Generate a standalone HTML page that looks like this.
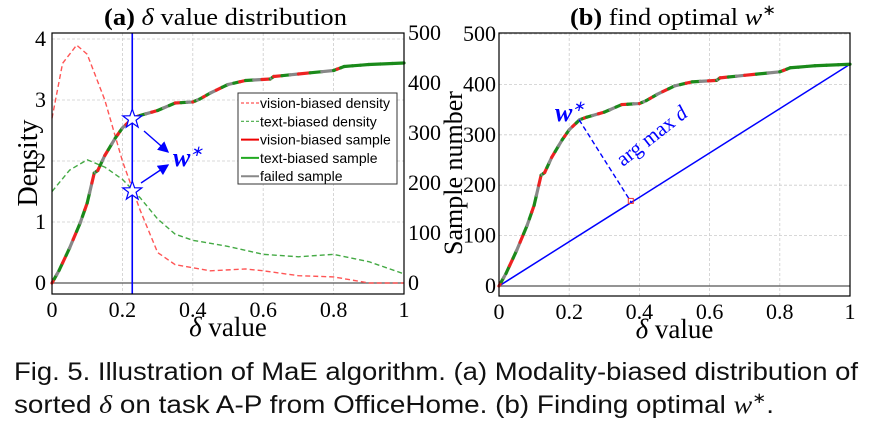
<!DOCTYPE html>
<html><head><meta charset="utf-8"><style>
body{margin:0;background:#fff;width:876px;height:425px;overflow:hidden}
svg{display:block}
.t{font-family:"Liberation Serif",serif;font-size:22px;fill:#000}
.cap{font-family:"Liberation Sans",sans-serif;font-size:25px;fill:#111}
.lg{font-family:"Liberation Sans",sans-serif;font-size:14px;fill:#000}
.grid{stroke:#ccc;stroke-dasharray:3,2;stroke-width:0.8}
</style></head><body>
<svg id="s" width="876" height="425">
<text class="cap" x="14" y="380" textLength="844" lengthAdjust="spacingAndGlyphs">Fig. 5. Illustration of MaE algorithm. (a) Modality-biased distribution of</text>
<text class="cap" x="14" y="413" textLength="760" lengthAdjust="spacingAndGlyphs">sorted <tspan font-family="Liberation Serif" font-style="italic">δ</tspan> on task A-P from OfficeHome. (b) Finding optimal <tspan font-family="Liberation Serif" font-style="italic">w</tspan><tspan font-size="15" dy="-10">∗</tspan><tspan dy="10">.</tspan></text>
</svg>
<script>
const sampleX=[0,0.02,0.05,0.08,0.1,0.12,0.13,0.15,0.18,0.2,0.23,0.25,0.3,0.35,0.4,0.42,0.45,0.5,0.55,0.62,0.63,0.7,0.8,0.83,0.9,1];
const sampleY=[0,25,70,120,160,220,225,255,290,310,330,335,345,360,362,368,380,397,405,408,413,418,425,433,437,440];
const visionX=[0,0.03,0.07,0.1,0.15,0.2,0.25,0.3,0.35,0.4,0.45,0.55,0.6,0.7,0.8,0.9,1];
const visionY=[2.7,3.6,3.9,3.75,3.0,2.0,1.2,0.5,0.3,0.25,0.2,0.23,0.2,0.12,0.1,0.0,0];
const textX=[0,0.05,0.1,0.15,0.2,0.25,0.3,0.35,0.4,0.5,0.6,0.7,0.8,0.9,1];
const textY=[1.5,1.85,2.02,1.9,1.7,1.4,1.05,0.8,0.7,0.6,0.47,0.43,0.47,0.35,0.15];
const wStar=0.228;
const xTicks=[0,0.2,0.4,0.6,0.8,1];
const densTicks=[0,1,2,3,4];
const countTicks=[0,100,200,300,400,500];
const NS="http://www.w3.org/2000/svg";
const svg=document.getElementById('s');
function mk(tag,at,parent){const e=document.createElementNS(NS,tag);for(const k in at)e.setAttribute(k,at[k]);(parent||svg).appendChild(e);return e;}
function pts(xs,ys,fx,fy){return xs.map((x,i)=>fx(x)+','+fy(ys[i])).join(' ');}
const segCols=['#e22','#1a8a1a','#888','#1a8a1a','#e22','#1a8a1a','#888'];
function drawSamples(fx,fc){
  for(let i=0;i<sampleX.length-1;i++){
    const n=3;
    for(let j=0;j<n;j++){
      const a=j/n,b=(j+1)/n;
      const x1=sampleX[i]+(sampleX[i+1]-sampleX[i])*a,y1=sampleY[i]+(sampleY[i+1]-sampleY[i])*a;
      const x2=sampleX[i]+(sampleX[i+1]-sampleX[i])*b,y2=sampleY[i]+(sampleY[i+1]-sampleY[i])*b;
      let c=segCols[(i*n+j)%segCols.length];
      if(sampleX[i]>=0.83)c='#1a8a1a';
      const l=mk('line',{x1:fx(x1),y1:fc(y1),x2:fx(x2),y2:fc(y2),stroke:c,'stroke-width':3.2,'stroke-linecap':'round'});
      
      
    }
  }
}
function axesFrame(L,R,T,B,fx){
  for(const t of xTicks){
    const g=mk('line',{x1:fx(t),x2:fx(t),y1:T,y2:B,class:'grid'});
    
    const tx=mk('text',{x:fx(t),y:B+23,class:'t','text-anchor':'middle'});tx.textContent=String(t);
    
  }
  const xl=mk('text',{x:(L+R)/2,y:B+42,class:'t',style:'font-size:27px','text-anchor':'middle'});
  xl.innerHTML='<tspan font-style="italic">δ</tspan> value';
  
}
mk('defs',{}).innerHTML='<marker id="ar" markerWidth="8" markerHeight="8" refX="7" refY="4" orient="auto"><path d="M0,0 L8,4 L0,8 z" fill="#00f"/></marker>';
// ---- Panel (a)
{
const L=52,R=404,T=33,B=294;
const fx=x=>L+x*(R-L);
const fd=d=>283-d*61;
const fc=c=>283-c*0.5;
axesFrame(L,R,T,B,fx);
for(const t of densTicks){
  const g=mk('line',{x1:L,x2:R,y1:fd(t),y2:fd(t),class:'grid'});
  const tx=mk('text',{x:L-6,y:fd(t)+7,class:'t','text-anchor':'end'});tx.textContent=t;
  
}
for(const t of countTicks){
  const tx=mk('text',{x:R+4,y:fc(t)+7,class:'t'});tx.textContent=t;
  
}
const z=mk('line',{x1:L,x2:R,y1:fd(0),y2:fd(0),stroke:'#555','stroke-width':1.2});
const vp=mk('polyline',{points:pts(visionX,visionY,fx,fd),fill:'none',stroke:'#f55','stroke-width':1.4,'stroke-dasharray':'5,3','stroke-linejoin':'round'});

const tp=mk('polyline',{points:pts(textX,textY,fx,fd),fill:'none',stroke:'#4a4','stroke-width':1.4,'stroke-dasharray':'5,3','stroke-linejoin':'round'});

drawSamples(fx,fc);
const vl=mk('line',{x1:fx(wStar),x2:fx(wStar),y1:T,y2:B,stroke:'#00f','stroke-width':1.6});

function star(cx,cy){let p='';for(let i=0;i<10;i++){const r=i%2?4:10,a=-Math.PI/2+i*Math.PI/5;p+=(cx+r*Math.cos(a))+','+(cy+r*Math.sin(a))+' ';}
 const s=mk('polygon',{points:p,fill:'#fff',stroke:'#00f','stroke-width':1.2});}
star(fx(wStar),119);star(fx(wStar),191);
const a1=mk('line',{x1:144,y1:131,x2:168,y2:152,stroke:'#00f','stroke-width':1.4,'marker-end':'url(#ar)'});
const a2=mk('line',{x1:141,y1:183,x2:168,y2:165,stroke:'#00f','stroke-width':1.4,'marker-end':'url(#ar)'});
const w=mk('text',{x:173,y:166,fill:'#00f','font-family':'Liberation Serif','font-size':'26','font-weight':'bold','font-style':'italic'});
w.innerHTML='w<tspan font-size="15" dy="-10" font-weight="normal">∗</tspan>';
mk('rect',{x:L,y:T,width:R-L,height:B-T,fill:'none',stroke:'#000','stroke-width':1.2});
const lgx=238,lgy=93;
const lr=mk('rect',{x:lgx,y:lgy,width:159,height:91,fill:'#fff',stroke:'#333','stroke-width':1});

const items=[['vision-biased density','#f55','3,2'],['text-biased density','#4a4','3,2'],['vision-biased sample','#e00',''],['text-biased sample','#2a2',''],['failed sample','#888','']];
items.forEach((it,i)=>{const y=lgy+10+i*18.3;
 const l=mk('line',{x1:lgx+3,x2:lgx+21,y1:y,y2:y,stroke:it[1],'stroke-width':it[2]?1.2:2,'stroke-dasharray':it[2]});
 
 const t=mk('text',{x:lgx+22,y:y+5,class:'lg'});t.textContent=it[0];});
const yl=mk('text',{x:0,y:0,class:'t',style:'font-size:28px','text-anchor':'middle',transform:'translate(37,163) rotate(-90)'});yl.textContent='Density';

const ttl=mk('text',{x:104,y:25,class:'t',style:'font-size:24px',textLength:'243',lengthAdjust:'spacingAndGlyphs'});
ttl.innerHTML='<tspan font-weight="bold">(a)</tspan> <tspan font-style="italic">δ</tspan> value distribution';

}
// ---- Panel (b)
{
const L=499,R=850,T=33,B=296;
const fx=x=>L+x*(R-L);
const fc=c=>286-c*0.504;
axesFrame(L,R,T,B,fx);
for(const t of countTicks){
  const g=mk('line',{x1:L,x2:R,y1:fc(t),y2:fc(t),class:'grid'});
  const tx=mk('text',{x:L-3,y:fc(t)+7,class:'t','text-anchor':'end'});tx.textContent=t;
  
}
const z=mk('line',{x1:L,x2:R,y1:fc(0),y2:fc(0),stroke:'#555','stroke-width':1.2});
const last=sampleY[sampleY.length-1];
const diag=mk('line',{x1:fx(0),y1:fc(0),x2:fx(1),y2:fc(last),stroke:'#00f','stroke-width':1.5});

drawSamples(fx,fc);
const px=fx(wStar),py=fc(330);
const x0=fx(0),y0=fc(0),dx=fx(1)-x0,dy=fc(last)-y0;
const tt=((px-x0)*dx+(py-y0)*dy)/(dx*dx+dy*dy);
const fxp=x0+tt*dx,fyp=y0+tt*dy;
const pd=mk('line',{x1:px,y1:py,x2:fxp,y2:fyp,stroke:'#00f','stroke-width':1.4,'stroke-dasharray':'5,3'});

const rm=mk('rect',{x:fxp-3,y:fyp-4,width:5,height:5,fill:'none',stroke:'#e33','stroke-width':1});
const am=mk('text',{x:0,y:0,fill:'#00f','font-family':'Liberation Serif','font-size':'21',transform:'translate(623,167) rotate(-38)'});
am.innerHTML='arg max <tspan font-style="italic">d</tspan>';
const w=mk('text',{x:555,y:121,fill:'#00f','font-family':'Liberation Serif','font-size':'26','font-weight':'bold','font-style':'italic'});
w.innerHTML='w<tspan font-size="15" dy="-10" font-weight="normal">∗</tspan>';
mk('rect',{x:L,y:T,width:R-L,height:B-T,fill:'none',stroke:'#000','stroke-width':1.2});
const yl=mk('text',{x:0,y:0,class:'t',style:'font-size:26px','text-anchor':'middle',transform:'translate(462,173) rotate(-90)'});yl.textContent='Sample number';

const ttl=mk('text',{x:570,y:25,class:'t',style:'font-size:24px',textLength:'206',lengthAdjust:'spacingAndGlyphs'});
ttl.innerHTML='<tspan font-weight="bold">(b)</tspan> find optimal <tspan font-style="italic">w</tspan><tspan font-size="15" dy="-10">∗</tspan>';

}
</script>
</body></html>
